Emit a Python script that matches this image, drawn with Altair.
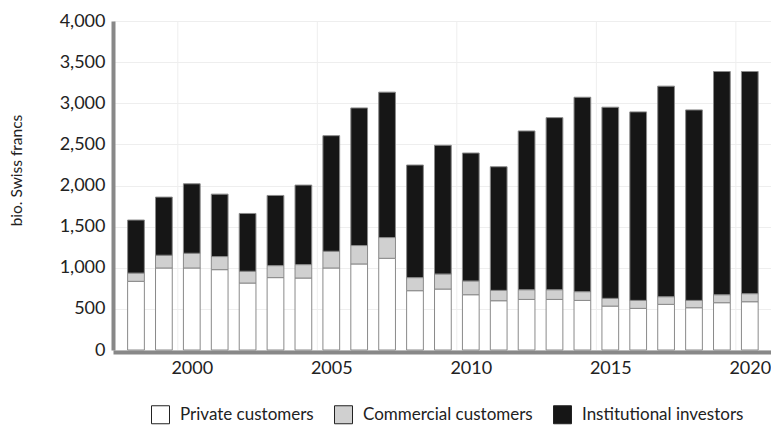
import altair as alt
import pandas as pd

years = list(range(1998, 2021))
private = [835, 997, 997, 977, 814, 880, 875, 997, 1046, 1115, 721, 741, 672,
           599, 615, 615, 603, 534, 506, 555, 514, 575, 587]
commercial = [100, 155, 179, 159, 143, 146, 163, 203, 224, 252, 159, 183, 167,
              126, 118, 118, 106, 94, 97, 93, 89, 97, 98]
institutional = [645, 707, 845, 759, 703, 853, 967, 1406, 1673, 1768, 1369, 1565, 1556,
                 1503, 1930, 2092, 2364, 2324, 2292, 2560, 2316, 2714, 2701]
series = ["Private customers", "Commercial customers", "Institutional investors"]
colors = ["#ffffff", "#d0d0d0", "#161616"]
tick_years = [2000, 2005, 2010, 2015, 2020]
y_ticks = [0, 500, 1000, 1500, 2000, 2500, 3000, 3500, 4000]

rows = []
for i, y in enumerate(years):
    for k, (name, vals) in enumerate(zip(series, [private, commercial, institutional])):
        rows.append({"year": y, "segment": name, "value": vals[i], "order": k})
df = pd.DataFrame(rows)
grid_df = pd.DataFrame({"tick": tick_years})

FONT = "Lato"
TXT = "#222222"
xscale = alt.Scale(domain=[1997.176, 2020.76], nice=False, zero=False)

bars = alt.Chart(df).transform_stack(
    stack="value", as_=["v0", "v1"], groupby=["year"],
    sort=[alt.SortField("order", order="ascending")]
).transform_calculate(
    x0="datum.year - 0.3", x1="datum.year + 0.3"
).mark_bar(stroke="#8a8a8a", strokeWidth=1).encode(
    x=alt.X("x0:Q", scale=xscale,
            axis=alt.Axis(values=tick_years, format="d", title=None, grid=False,
                          ticks=False, domainColor="#888888", domainWidth=4,
                          labelFontSize=18, labelColor=TXT, labelFont=FONT,
                          labelPadding=7, offset=2)),
    x2="x1:Q",
    y=alt.Y("v0:Q",
            scale=alt.Scale(domain=[0, 4000], nice=False),
            axis=alt.Axis(values=y_ticks, format=",d", title="bio. Swiss francs",
                          grid=True, gridColor="#eeeeee", gridWidth=1,
                          ticks=False, domainColor="#888888", domainWidth=4,
                          labelFontSize=18, labelColor=TXT, labelFont=FONT,
                          labelPadding=8, titleFont=FONT, titleFontSize=15.5,
                          titleFontWeight="normal", titleColor=TXT,
                          titlePadding=35, titleY=149)),
    y2="v1:Q",
    color=alt.Color("segment:N", scale=alt.Scale(domain=series, range=colors),
                    sort=series,
                    legend=alt.Legend(title=None, orient="none", direction="horizontal",
                                      legendX=38, legendY=384,
                                      symbolType="square", symbolSize=324,
                                      symbolStrokeColor="#222222", symbolStrokeWidth=1,
                                      symbolOpacity=1, labelLimit=400,
                                      labelFontSize=17, labelFont=FONT, labelColor=TXT,
                                      columnPadding=18, labelOffset=10)),
)

vgrid = alt.Chart(grid_df).transform_calculate(
    gx="datum.tick - 0.5"
).mark_rule(color="#eeeeee", strokeWidth=1).encode(
    x=alt.X("gx:Q", scale=xscale)
)

chart = alt.layer(vgrid, bars).properties(
    width=658, height=329,
    padding={"left": 105, "top": 13, "right": 0, "bottom": 75},
    autosize=alt.AutoSizeParams(type="none"),
).configure_view(stroke=None)

chart.save("out.html", embed_options={"renderer": "svg", "actions": False})
